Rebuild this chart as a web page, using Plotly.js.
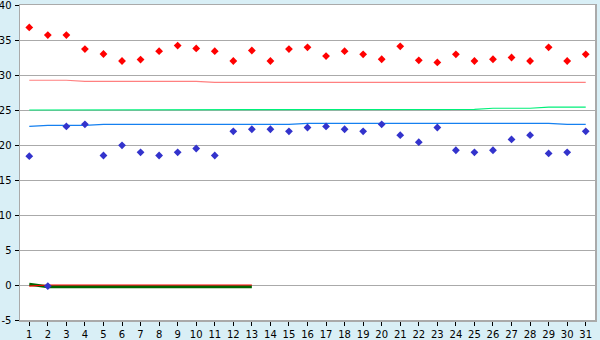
<!DOCTYPE html>
<html>
<head>
<meta charset="utf-8">
<script src="https://cdn.plot.ly/plotly-3.0.1.min.js"></script>
<style>html,body{margin:0;padding:0;background:#d9eff6;}#chart{width:600px;height:340px;}</style>
</head>
<body>
<div id="chart"></div>
<script>
const categories = [1,2,3,4,5,6,7,8,9,10,11,12,13,14,15,16,17,18,19,20,21,22,23,24,25,26,27,28,29,30,31];
const redPoints = [36.8,35.7,35.7,33.7,33.0,32.0,32.2,33.4,34.2,33.8,33.4,32.0,33.5,32.0,33.7,33.95,32.7,33.4,32.95,32.25,34.1,32.1,31.8,32.95,32.0,32.25,32.5,32.0,33.95,32.0,32.95];
const bluePoints = [18.4,-0.15,22.65,22.95,18.5,19.95,18.95,18.5,18.95,19.5,18.5,21.95,22.25,22.25,21.95,22.5,22.65,22.25,21.95,22.95,21.4,20.4,22.5,19.25,18.95,19.25,20.8,21.4,18.8,18.95,21.95];
const pinkLine = [29.25,29.25,29.25,29.1,29.1,29.1,29.1,29.1,29.1,29.1,28.95,28.95,28.95,28.95,28.95,28.95,28.95,28.95,28.95,28.95,28.95,28.95,28.95,28.95,28.95,28.95,28.95,28.95,28.95,28.95,28.95];
const greenLine = [25,25,25,25,25,25,25,25,25,25,25,25,25,25,25,25,25,25,25,25,25,25,25.1,25.1,25.1,25.25,25.25,25.25,25.4,25.4,25.4];
const blueLine = [22.65,22.8,22.8,22.8,22.95,22.95,22.95,22.95,22.95,22.95,22.95,22.95,22.95,22.95,22.95,23.1,23.1,23.1,23.1,23.1,23.1,23.1,23.1,23.1,23.1,23.1,23.1,23.1,23.1,22.95,22.95];
const darkGreenLine = [0.1,-0.25,-0.25,-0.25,-0.25,-0.25,-0.25,-0.25,-0.25,-0.25,-0.25,-0.25,-0.25];
const redZeroLine = [-0.15,0,0,0,0,0,0,0,0,0,0,0,0];
const yTicks = [-5,0,5,10,15,20,25,30,35,40];

const shortCats = categories.slice(0, darkGreenLine.length);
const data = [
  {x: categories, y: pinkLine, mode: 'lines', line: {color: '#ff8080', width: 1.2}, hoverinfo: 'skip'},
  {x: categories, y: greenLine, mode: 'lines', line: {color: '#00f07a', width: 1.2}, hoverinfo: 'skip'},
  {x: categories, y: blueLine, mode: 'lines', line: {color: '#1580f0', width: 1.2}, hoverinfo: 'skip'},
  {x: shortCats, y: darkGreenLine, mode: 'lines', line: {color: '#006400', width: 3}, hoverinfo: 'skip'},
  {x: shortCats, y: redZeroLine, mode: 'lines', line: {color: '#ff0000', width: 1.2}, hoverinfo: 'skip'},
  {x: categories, y: redPoints, mode: 'markers', marker: {symbol: 'diamond', size: 6, color: '#ff0000'}},
  {x: categories, y: bluePoints, mode: 'markers', marker: {symbol: 'diamond', size: 6, color: '#3333cc'}}
];
const layout = {
  width: 600, height: 340,
  margin: {l: 20, r: 5, t: 5, b: 20},
  paper_bgcolor: '#d9eff6',
  plot_bgcolor: '#ffffff',
  showlegend: false,
  font: {family: 'DejaVu Sans, Verdana, sans-serif', size: 10, color: '#000000'},
  xaxis: {
    range: [0.5, 31.5], tickmode: 'array', tickvals: categories, ticktext: categories.map(String),
    showgrid: false, zeroline: false, showline: true, linecolor: '#aaaaaa', linewidth: 1.5, mirror: true,
    ticks: 'outside', ticklen: 4, tickcolor: '#000000', tickwidth: 1, fixedrange: true,
    ticklabelstandoff: 0, ticklabeloverflow: 'allow'
  },
  yaxis: {
    range: [-5, 40], tickmode: 'array', tickvals: yTicks, ticktext: yTicks.map(v => v < 0 ? '-' + Math.abs(v) : String(v)),
    showgrid: true, gridcolor: '#aaaaaa', gridwidth: 1, zeroline: false,
    showline: true, linecolor: '#aaaaaa', linewidth: 1.5, mirror: true,
    ticks: 'outside', ticklen: 4, tickcolor: '#000000', tickwidth: 1, fixedrange: true,
    ticklabelstandoff: 1, ticklabeloverflow: 'allow'
  }
};
Plotly.newPlot('chart', data, layout, {displayModeBar: false, staticPlot: true});
</script>
</body>
</html>
